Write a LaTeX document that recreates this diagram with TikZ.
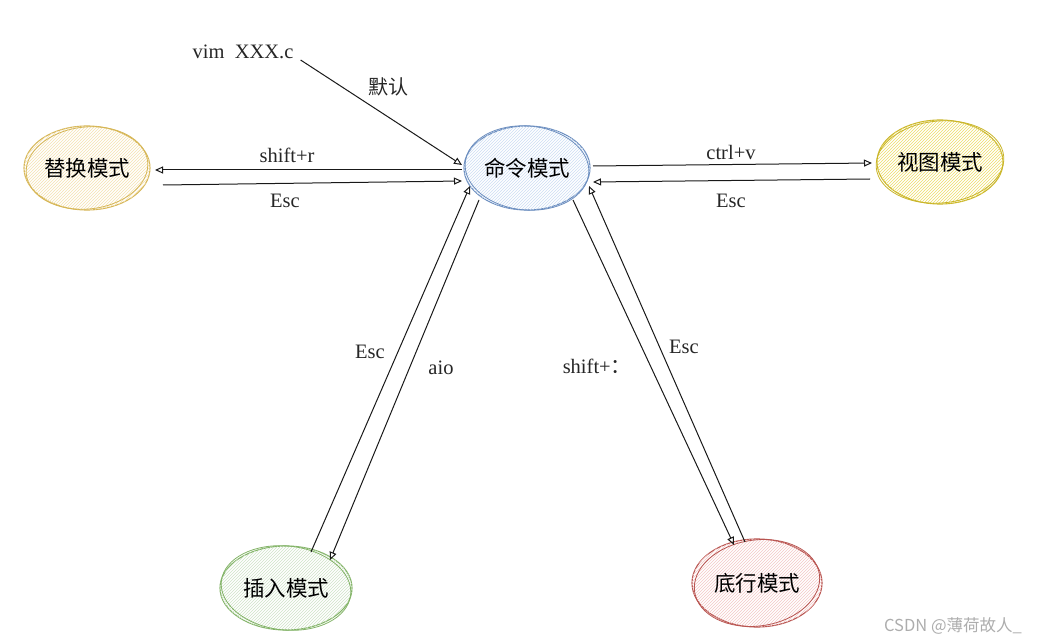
\documentclass[tikz,border=0pt]{standalone}
\usepackage{fontspec}
\setmainfont{Liberation Serif}
\newfontfamily\cjk{Noto Sans CJK SC}
\usetikzlibrary{arrows.meta,shapes.geometric,patterns,calc}
\definecolor{repline}{HTML}{D6B656}\definecolor{repfill}{HTML}{F5E2B0}
\definecolor{cmdline}{HTML}{6C8EBF}\definecolor{cmdfill}{HTML}{CCDDF4}
\definecolor{viewline}{HTML}{C9B52A}\definecolor{viewfill}{HTML}{EEDD66}
\definecolor{insline}{HTML}{82B366}\definecolor{insfill}{HTML}{CFE4C8}
\definecolor{botline}{HTML}{B85450}\definecolor{botfill}{HTML}{F4C8C6}
\tikzset{
  mode/.style={ellipse, line width=1.1pt, minimum width=126pt, minimum height=84pt, inner sep=0pt, fill=white,
    font=\cjk\fontsize{21.5}{24}\selectfont},
  sketch/.style={line width=0.8pt},
  conn/.style={-{Triangle[open,length=8pt,width=7pt]}, line width=1pt, draw=black!90},
  lbl/.style={font=\fontsize{20.5}{23}\selectfont, text=black!85, inner sep=1pt}
}
\begin{document}
\begin{tikzpicture}[x=1pt,y=-1pt]
\useasboundingbox (0,0) rectangle (1037,644);
% nodes
\node[mode, draw=repline, postaction={pattern=north east lines, pattern color=repfill}] (rep) at (87,168) {替换模式};
\draw[sketch, repline, rotate around={6:(rep.center)}] (rep.center) ellipse [x radius=61pt, y radius=41pt];
\node[mode, draw=cmdline, postaction={pattern=north east lines, pattern color=cmdfill}] (cmd) at (527,168) {命令模式};
\draw[sketch, cmdline, rotate around={-5:(cmd.center)}] (cmd.center) ellipse [x radius=62pt, y radius=42pt];
\node[mode, draw=viewline, postaction={pattern=north east lines, pattern color=viewfill}] (view) at (940,162) {视图模式};
\draw[sketch, viewline, rotate around={5:(view.center)}] (view.center) ellipse [x radius=64pt, y radius=41pt];
\node[mode, draw=insline, minimum width=132pt, postaction={pattern=north east lines, pattern color=insfill}] (ins) at (286,588) {插入模式};
\draw[sketch, insline, rotate around={-6:(ins.center)}] (ins.center) ellipse [x radius=65pt, y radius=42pt];
\node[mode, draw=botline, minimum width=130pt, minimum height=88pt, postaction={pattern=north east lines, pattern color=botfill}] (bot) at (757,583) {底行模式};
\draw[sketch, botline, rotate around={8:(bot.center)}] (bot.center) ellipse [x radius=63pt, y radius=43pt];
% texts
\node[lbl] (vim) at (243,52) {vim\ \ XXX.c};
\node[lbl, font=\cjk\fontsize{20}{22}\selectfont] (ldef) at (388,87) {默认};
\node[lbl] (l1) at (287,155) {shift+r};
\node[lbl] (l2) at (285,201) {Esc};
\node[lbl] (l3) at (731,152) {ctrl+v};
\node[lbl] (l4) at (731,201) {Esc};
\node[lbl] (l5) at (370,352) {Esc};
\node[lbl] (l6) at (441,368) {aio};
\node[lbl] (l7) at (597,366) {shift+{\cjk ：}};
\node[lbl] (l8) at (684,347) {Esc};
\node[font=\cjk\fontsize{16.5}{18}\selectfont, text=black!32] (wm) at (953,626) {CSDN @薄荷故人\_};
% connectors
\draw[conn] ($(vim.east)+(6,8)$) -- ($(cmd.center)+(-65,-3)$);
\draw[conn] ($(cmd.center)+(-65,2)$) -- ($(rep.center)+(68,2)$);
\draw[conn] ($(rep.center)+(76,17)$) -- ($(cmd.center)+(-65,13)$);
\draw[conn] ($(cmd.center)+(66,-2)$) -- ($(view.center)+(-68,1)$);
\draw[conn] ($(view.center)+(-70,17)$) -- ($(cmd.center)+(66,14)$);
\draw[conn] ($(ins.center)+(25,-36)$) -- ($(cmd.center)+(-57,18)$);
\draw[conn] ($(cmd.center)+(-48,32)$) -- ($(ins.center)+(44,-28)$);
\draw[conn] ($(cmd.center)+(46,32)$) -- ($(bot.center)+(-23,-38)$);
\draw[conn] ($(bot.center)+(-12,-41)$) -- ($(cmd.center)+(62,18)$);
\end{tikzpicture}
\end{document}
